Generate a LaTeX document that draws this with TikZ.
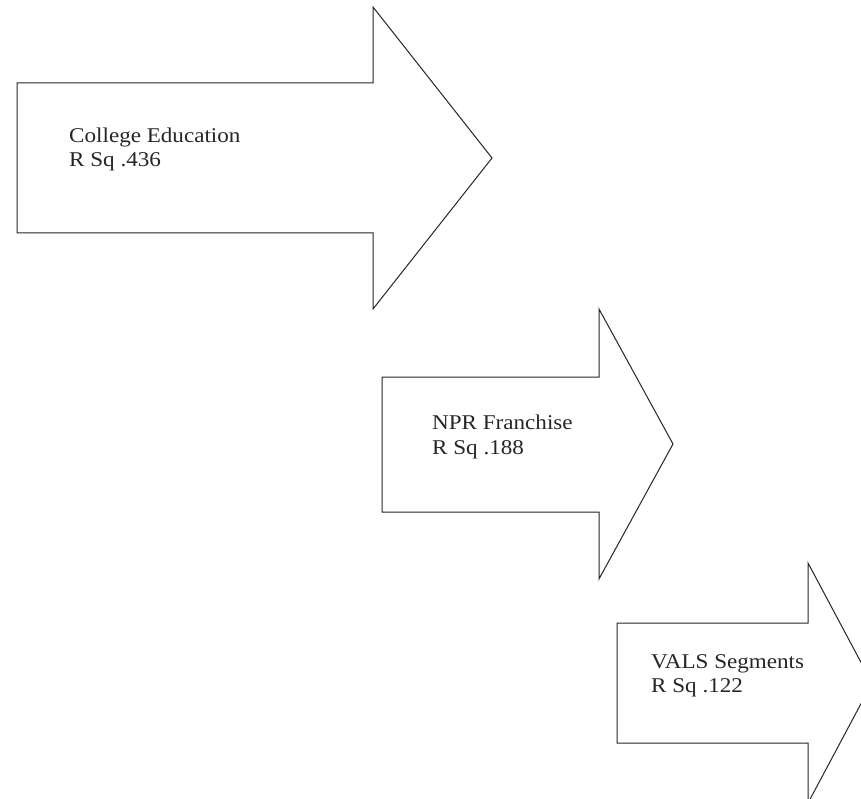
\documentclass[tikz,border=0pt]{standalone}
\usepackage{fontspec}
\setmainfont[FakeStretch=1.1]{Liberation Serif}
\begin{document}
\begin{tikzpicture}[x=1pt,y=-1pt,
  arrowshape/.style={draw=black!85, line width=1pt, fill=white, line join=miter},
  label/.style={anchor=base west, inner sep=0pt, text=black!85, font=\fontsize{21}{24}\selectfont}]
\clip (0,0) rectangle (861,799);
\fill[white] (0,0) rectangle (861,799);
% arrow 1
\draw[arrowshape] (17,83) -- (373,83) -- (373,7) -- (492,158) -- (373,309) -- (373,233) -- (17,233) -- cycle;
\node[label] (t1a) at (69,143) {College Education};
\node[label] (t1b) at (69,167) {R Sq .436};
% arrow 2
\draw[arrowshape] (382,377) -- (599,377) -- (599,309) -- (673,444) -- (599,579) -- (599,512) -- (382,512) -- cycle;
\node[label] (t2a) at (432,429) {NPR Franchise};
\node[label] (t2b) at (432,454) {R Sq .188};
% arrow 3
\draw[arrowshape] (617,623) -- (808,623) -- (808,563) -- (872,683) -- (808,803) -- (808,743) -- (617,743) -- cycle;
\node[label] (t3a) at (651,668) {VALS Segments};
\node[label] (t3b) at (651,692) {R Sq .122};
\end{tikzpicture}
\end{document}
